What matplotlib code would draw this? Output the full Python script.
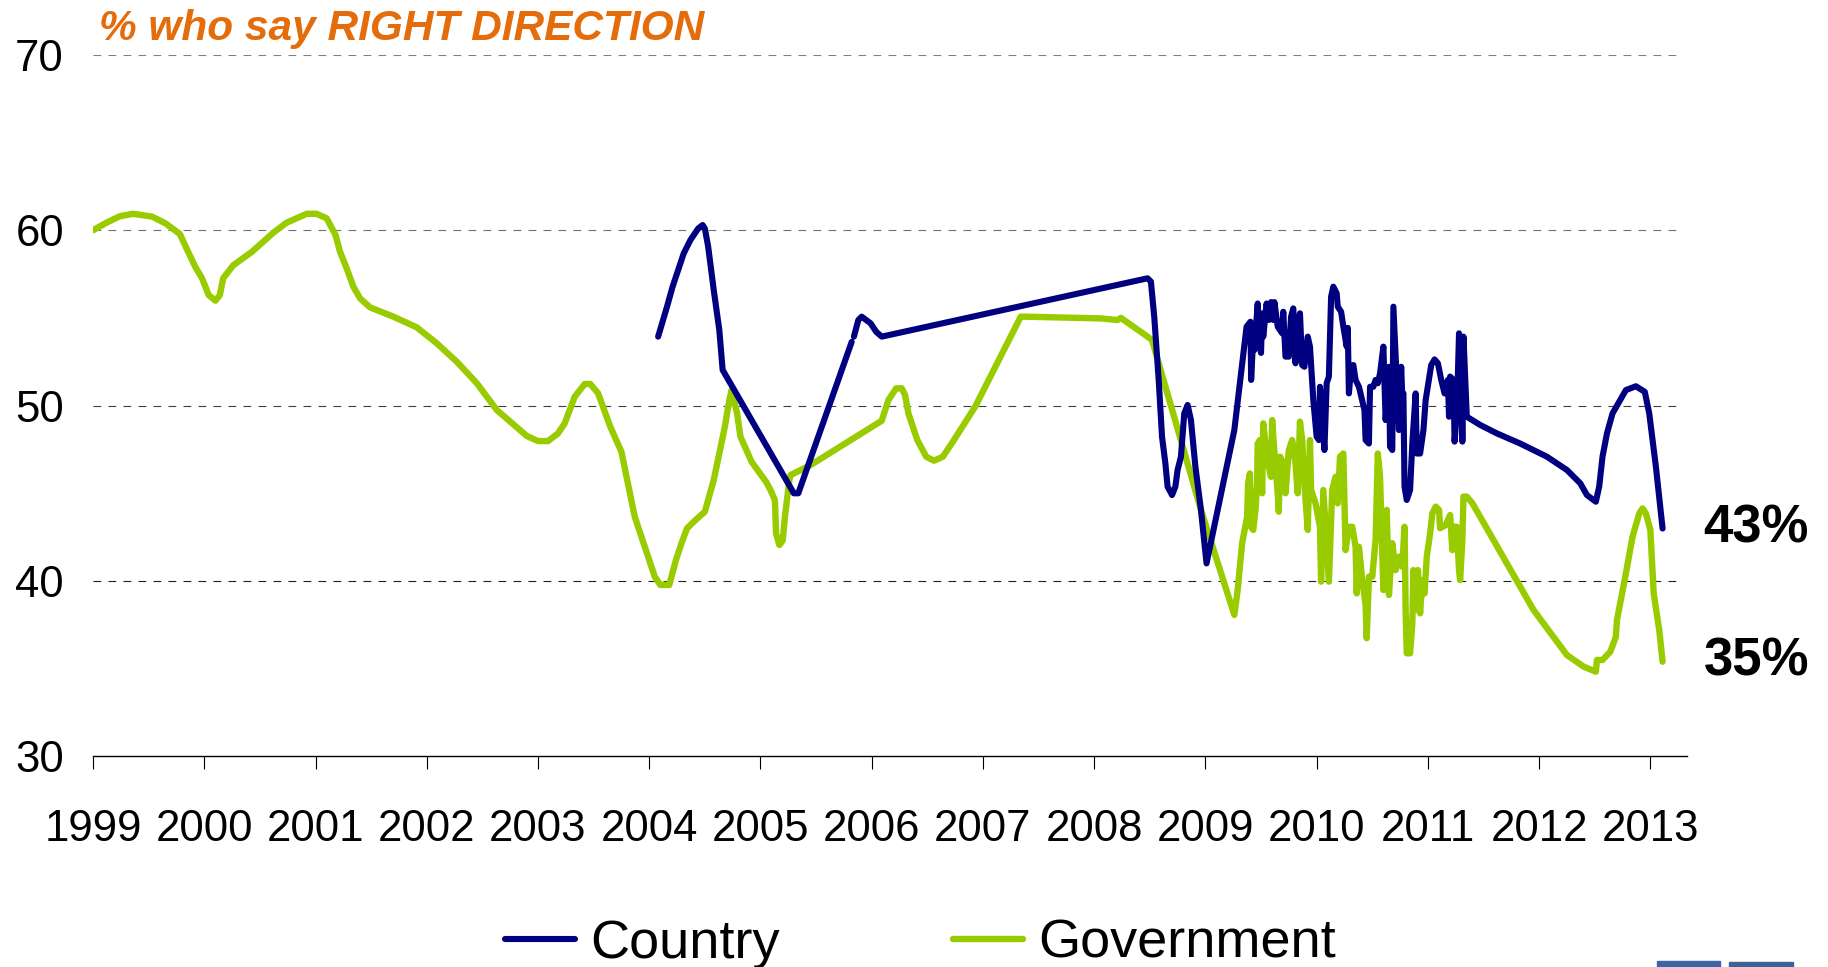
"""Right direction / wrong track chart: Country vs Government."""

import matplotlib

matplotlib.use("Agg")
import matplotlib.pyplot as plt
import numpy as np
from matplotlib.patches import Rectangle

plt.rcParams["font.family"] = ["Liberation Sans", "DejaVu Sans"]
plt.rcParams["lines.scale_dashes"] = False

# --- data (decimal years, % who say right direction) ---
country_year = [
    2004.08, 2004.16, 2004.21, 2004.26, 2004.31, 2004.37, 2004.44, 2004.48, 2004.50,
    2004.53, 2004.58, 2004.63, 2004.66, 2005.30, 2005.34, 2005.82, np.nan, 2005.84,
    2005.88, 2005.91, 2005.99, 2006.04, 2006.09, 2008.48, 2008.51, 2008.54, 2008.58,
    2008.61, 2008.64, 2008.66, 2008.70, 2008.73, 2008.75, 2008.78, 2008.81, 2008.84,
    2008.87, 2008.91, 2008.96, 2009.01, 2009.26, 2009.37, 2009.405, 2009.411, 2009.43,
    2009.44, 2009.47, 2009.48, 2009.50, 2009.51, 2009.52, 2009.55, 2009.57, 2009.59,
    2009.61, 2009.62, 2009.65, 2009.69, 2009.70, 2009.72, 2009.75, 2009.77, 2009.79,
    2009.81, 2009.83, 2009.85, 2009.87, 2009.89, 2009.92, 2009.94, 2009.97, 2010.00,
    2010.02, 2010.03, 2010.05, 2010.07, 2010.09, 2010.11, 2010.13, 2010.15, 2010.18,
    2010.19, 2010.22, 2010.24, 2010.27, 2010.28, 2010.29, 2010.31, 2010.33, 2010.35,
    2010.38, 2010.43, 2010.44, 2010.47, 2010.48, 2010.51, 2010.53, 2010.55, 2010.57,
    2010.60, 2010.62, 2010.65, 2010.66, 2010.68, 2010.69, 2010.72, 2010.74, 2010.76,
    2010.77, 2010.78, 2010.79, 2010.81, 2010.84, 2010.86, 2010.89, 2010.90, 2010.93,
    2010.96, 2010.98, 2011.03, 2011.06, 2011.09, 2011.12, 2011.15, 2011.18, 2011.19,
    2011.20, 2011.23, 2011.24, 2011.26, 2011.28, 2011.30, 2011.31, 2011.32, 2011.35,
    2011.47, 2011.62, 2011.83, 2012.07, 2012.25, 2012.37, 2012.43, 2012.51, 2012.54,
    2012.57, 2012.61, 2012.66, 2012.78, 2012.87, 2012.95, 2012.99, 2013.05, 2013.11,
]
country_val = [
    53.93, 55.64, 56.78, 57.73, 58.68, 59.44, 60.10, 60.30, 60.10,
    59.06, 56.59, 54.31, 52.03, 44.99, 44.99, 53.63, np.nan, 53.93,
    54.88, 55.07, 54.69, 54.21, 53.93, 57.26, 57.07, 55.07, 51.46,
    48.22, 46.70, 45.37, 44.89, 45.37, 46.32, 47.08, 49.55, 50.03,
    49.17, 46.51, 44.04, 40.99, 48.60, 54.50, 54.78, 51.46, 53.93,
    53.17, 55.82, 53.55, 53.00, 55.26, 53.93, 55.82, 54.88, 55.90,
    54.88, 55.90, 54.50, 54.12, 55.35, 52.79, 52.79, 55.07, 55.54,
    52.41, 54.50, 55.26, 52.31, 52.21, 53.93, 53.36, 50.31, 48.22,
    48.03, 51.07, 49.36, 47.46, 51.27, 51.65, 56.21, 56.78, 56.40,
    55.64, 55.35, 54.50, 53.36, 54.43, 50.69, 52.21, 52.31, 51.46,
    51.07, 49.74, 48.03, 47.83, 51.07, 51.07, 51.46, 51.27, 51.84,
    53.36, 49.17, 52.21, 47.65, 47.46, 55.64, 51.46, 48.60, 52.21,
    50.50, 50.69, 45.37, 44.61, 45.18, 47.83, 50.69, 47.26, 47.26,
    48.60, 50.31, 52.31, 52.63, 52.41, 51.46, 50.69, 51.46, 49.36,
    51.65, 51.46, 47.94, 49.55, 54.12, 52.21, 47.94, 53.93, 49.36,
    48.89, 48.41, 47.83, 47.08, 46.32, 45.56, 44.89, 44.51, 45.37,
    47.08, 48.41, 49.55, 50.88, 51.10, 50.78, 49.55, 46.50, 42.98,
]

gov_year = [
    1999.00, 1999.12, 1999.24, 1999.36, 1999.53, 1999.65, 1999.78, 1999.84, 1999.92,
    1999.98, 2000.04, 2000.10, 2000.14, 2000.17, 2000.26, 2000.43, 2000.62, 2000.74,
    2000.92, 2001.01, 2001.10, 2001.18, 2001.22, 2001.28, 2001.34, 2001.40, 2001.49,
    2001.70, 2001.91, 2002.09, 2002.27, 2002.45, 2002.63, 2002.75, 2002.90, 2003.00,
    2003.09, 2003.18, 2003.24, 2003.33, 2003.42, 2003.47, 2003.54, 2003.65, 2003.75,
    2003.87, 2003.97, 2004.05, 2004.10, 2004.18, 2004.24, 2004.29, 2004.34, 2004.40,
    2004.50, 2004.58, 2004.68, 2004.72, 2004.74, 2004.79, 2004.82, 2004.92, 2005.05,
    2005.09, 2005.13, 2005.14, 2005.17, 2005.20, 2005.22, 2005.26, 2005.27, 2005.45,
    2006.09, 2006.15, 2006.22, 2006.27, 2006.30, 2006.33, 2006.41, 2006.49, 2006.56,
    2006.64, 2006.73, 2006.93, 2007.34, 2007.37, 2008.06, 2008.18, 2008.21, 2008.24,
    2008.46, 2008.52, 2008.96, 2009.26, 2009.29, 2009.33, 2009.375, 2009.384, 2009.40,
    2009.41, 2009.43, 2009.45, 2009.465, 2009.47, 2009.49, 2009.51, 2009.52, 2009.54,
    2009.57, 2009.59, 2009.60, 2009.61, 2009.65, 2009.66, 2009.67, 2009.70, 2009.72,
    2009.75, 2009.78, 2009.81, 2009.83, 2009.85, 2009.87, 2009.89, 2009.92, 2009.94,
    2009.95, 2009.99, 2010.03, 2010.04, 2010.06, 2010.08, 2010.11, 2010.14, 2010.17,
    2010.19, 2010.21, 2010.24, 2010.26, 2010.29, 2010.32, 2010.35, 2010.36, 2010.38,
    2010.41, 2010.44, 2010.45, 2010.47, 2010.50, 2010.53, 2010.55, 2010.57, 2010.60,
    2010.63, 2010.65, 2010.68, 2010.71, 2010.74, 2010.77, 2010.79, 2010.80, 2010.81,
    2010.84, 2010.86, 2010.87, 2010.90, 2010.91, 2010.93, 2010.95, 2010.97, 2010.99,
    2011.02, 2011.04, 2011.07, 2011.10, 2011.11, 2011.16, 2011.20, 2011.22, 2011.24,
    2011.26, 2011.28, 2011.29, 2011.31, 2011.32, 2011.35, 2011.40, 2011.47, 2011.95,
    2012.25, 2012.40, 2012.51, 2012.52, 2012.57, 2012.64, 2012.69, 2012.70, 2012.78,
    2012.84, 2012.90, 2012.93, 2012.96, 2013.00, 2013.03, 2013.08, 2013.11,
]
gov_val = [
    60.00, 60.43, 60.80, 60.94, 60.78, 60.40, 59.79, 58.97, 57.90,
    57.26, 56.30, 55.98, 56.30, 57.26, 58.00, 58.78, 59.86, 60.43,
    60.94, 60.94, 60.68, 59.73, 58.78, 57.83, 56.78, 56.12, 55.60,
    55.07, 54.46, 53.55, 52.50, 51.27, 49.74, 49.08, 48.26, 47.97,
    47.97, 48.41, 48.98, 50.50, 51.23, 51.23, 50.70, 48.79, 47.36,
    43.65, 41.75, 40.23, 39.76, 39.76, 41.18, 42.14, 42.99, 43.37,
    43.94, 45.75, 48.79, 50.31, 50.88, 49.55, 48.22, 46.79, 45.65,
    45.18, 44.60, 42.70, 42.04, 42.30, 43.65, 45.75, 46.03, 46.60,
    49.13, 50.31, 50.98, 50.98, 50.60, 49.55, 48.03, 47.08, 46.85,
    47.08, 47.94, 49.93, 55.07, 55.07, 54.97, 54.90, 54.88, 55.00,
    54.02, 53.74, 44.04, 38.05, 39.47, 42.14, 43.65, 45.55, 46.12,
    43.08, 42.90, 44.04, 45.55, 47.83, 48.03, 44.99, 48.98, 47.83,
    46.50, 45.93, 49.17, 48.22, 44.99, 43.94, 47.08, 46.70, 44.99,
    47.46, 48.03, 46.70, 44.99, 49.08, 48.03, 45.55, 42.90, 48.03,
    45.18, 44.42, 43.08, 39.95, 45.18, 43.08, 39.95, 45.18, 45.93,
    44.42, 47.08, 47.26, 41.75, 43.08, 43.08, 41.94, 39.28, 41.94,
    40.04, 38.62, 36.72, 40.23, 40.23, 42.33, 47.26, 45.93, 39.47,
    44.04, 39.19, 42.14, 40.61, 41.37, 40.80, 43.08, 38.33, 35.86,
    35.86, 37.57, 40.61, 38.33, 40.61, 38.14, 40.04, 39.28, 41.37,
    42.71, 43.84, 44.23, 44.04, 43.00, 43.18, 43.75, 41.75, 43.08,
    43.08, 40.61, 40.04, 42.33, 44.80, 44.80, 44.42, 43.65, 38.33,
    35.76, 35.10, 34.81, 35.48, 35.48, 35.95, 36.81, 37.76, 40.42,
    42.51, 43.84, 44.13, 43.84, 42.90, 39.28, 37.19, 35.38,
]

years = list(range(1999, 2014))
y_ticks = [30, 40, 50, 60, 70]

navy = "#000080"
green = "#99CC00"
orange = "#E46C0A"

fig = plt.figure(figsize=(18.28, 9.67), dpi=100)
ax = fig.add_axes([0.0509, 0.2182, 0.8720, 0.7249])

grid_colors = ["#202020", "#404040", "#707070", "#808080"]
for yv, gc in zip(y_ticks[1:], grid_colors):
    ax.axhline(yv, xmin=0, xmax=0.997, color=gc, lw=0.8, ls=(0, (5.6, 5.2)), zorder=1)

ax.plot(country_year, country_val, color=navy, lw=4.4, label="Country",
        solid_joinstyle="round", solid_capstyle="round", zorder=3)
ax.plot(gov_year, gov_val, color=green, lw=4.6, label="Government",
        solid_joinstyle="round", solid_capstyle="round", zorder=2)

ax.set_xlim(1999, 2013.33)
ax.set_ylim(30, 70)
ax.set_xticks(years)
ax.set_xticklabels([str(y) for y in years])
ax.set_yticks(y_ticks)
ax.tick_params(axis="x", length=9, width=0.8, direction="out", labelsize=31.5, pad=29)
ax.tick_params(axis="y", length=0, labelsize=31.5, pad=21)
for side in ["top", "right", "left"]:
    ax.spines[side].set_visible(False)
ax.spines["bottom"].set_linewidth(1.0)

# end-of-line labels
ax.text(2013.48, country_val[-1], f"{round(country_val[-1])}%", fontsize=38,
        fontweight="bold", va="center", ha="left")
ax.text(2013.48, gov_val[-1], f"{round(gov_val[-1])}%", fontsize=38,
        fontweight="bold", va="center", ha="left")

fig.text(0.0542, 0.9590, "% who say RIGHT DIRECTION", fontsize=30.5, color=orange,
         fontweight="bold", fontstyle="italic", va="baseline", ha="left")

fig.legend(loc="center", bbox_to_anchor=(0.5035, 0.024), ncol=2, frameon=False,
           fontsize=39, handlelength=1.3, handletextpad=0.27, columnspacing=3.2)

# logo fragments at the bottom-right edge
fig.patches.append(Rectangle((0.9065, 0.0), 0.0345, 0.0065, transform=fig.transFigure,
                             color="#3B64A6", zorder=5))
fig.patches.append(Rectangle((0.9460, 0.0), 0.0350, 0.0055, transform=fig.transFigure,
                             color="#3D6291", zorder=5))

fig.savefig("out.png", dpi=100)
